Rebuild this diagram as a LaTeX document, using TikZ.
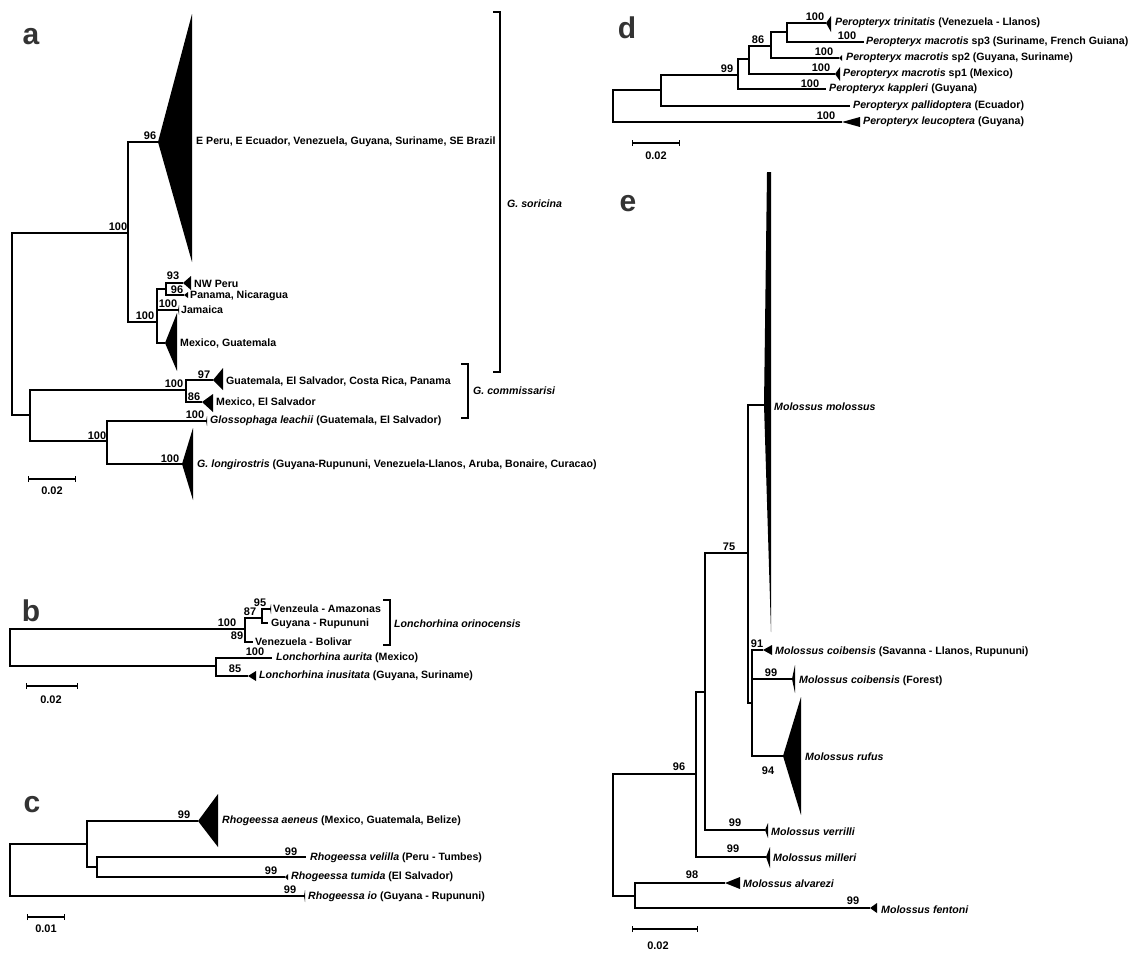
\documentclass[tikz,border=0pt]{standalone}
\usepackage{fontspec}
\setmainfont{Liberation Sans}
\usetikzlibrary{arrows.meta}

% collapsed clade: apex, width, extent up, extent down
\newcommand{\collapsed}[4]{\fill (#1) -- ++(#2,-#3) -- ++(0,{#3+#4}) -- cycle;}

\begin{document}
\begin{tikzpicture}[
    x=1pt, y=-1pt,
    branch/.style = {line width=1.2pt},
    tip/.style = {
        anchor=west,
        inner sep=0pt,
        font=\fontsize{10.6}{12}\selectfont\bfseries
    },
    bs/.style = {
        inner sep=0pt,
        font=\fontsize{11}{12}\selectfont\bfseries
    },
    panel/.style = {
        inner sep=0pt,
        text=black!80,
        font=\fontsize{30}{30}\selectfont\bfseries
    },
    bracket/.style = {line width=1.2pt},
    scalebar/.style = {line width=1.2pt, {Bar[width=6pt]}-{Bar[width=6pt]}},
    scl/.style = {inner sep=0pt, font=\fontsize{11}{12}\selectfont\bfseries}
]

\useasboundingbox (0,0) rectangle (1134,953);

%% ── a ───────────────────────────────────────────────────────────────────────

\node[panel] (labA) at (31,37) {a};

\coordinate (aR)   at (12,324);
\coordinate (aN1)  at (128,233);
\coordinate (aEPe) at (158,142);
\coordinate (aN2)  at (157,322);
\coordinate (aN3)  at (166,289);
\coordinate (aNWP) at (183,283);
\coordinate (aPan) at (184,295);
\coordinate (aJam) at (178,310);
\coordinate (aMex) at (165,343);
\coordinate (aN4)  at (30,415);
\coordinate (aN5)  at (186,390);
\coordinate (aGua) at (213,380);
\coordinate (aMeS) at (202,402);
\coordinate (aN6)  at (107,441);
\coordinate (aLea) at (206,421);
\coordinate (aLon) at (182,464);

\draw[branch] (aR)  |- (aN1);
\draw[branch] (aR)  |- (aN4);
\draw[branch] (aN1) |- (aEPe);
\draw[branch] (aN1) |- (aN2);
\draw[branch] (aN2) |- (aN3);
\draw[branch] (aN2) |- (aJam);
\draw[branch] (aN2) |- (aMex);
\draw[branch] (aN3) |- (aNWP);
\draw[branch] (aN3) |- (aPan);
\draw[branch] (aN4) |- (aN5);
\draw[branch] (aN4) |- (aN6);
\draw[branch] (aN5) |- (aGua);
\draw[branch] (aN5) |- (aMeS);
\draw[branch] (aN6) |- (aLea);
\draw[branch] (aN6) |- (aLon);

\collapsed{aEPe}{34}{128}{120}
\collapsed{aNWP}{8}{7}{7}
\collapsed{aPan}{4}{3}{3}
\collapsed{aJam}{1}{5}{5}
\collapsed{aMex}{12}{30}{28}
\collapsed{aGua}{10}{12}{10}
\collapsed{aMeS}{11}{8}{10}
\collapsed{aLea}{1}{5}{5}
\collapsed{aLon}{11}{36}{36}

\node[tip] (tEPe) at (196,142) {E Peru, E Ecuador, Venezuela, Guyana, Suriname, SE Brazil};
\node[tip] (tNWP) at (194,284) {NW Peru};
\node[tip] (tPan) at (190,296) {Panama, Nicaragua};
\node[tip] (tJam) at (181,310) {Jamaica};
\node[tip] (tMex) at (180,343) {Mexico, Guatemala};
\node[tip] (tGua) at (226,381) {Guatemala, El Salvador, Costa Rica, Panama};
\node[tip] (tMeS) at (216,402) {Mexico, El Salvador};
\node[tip] (tLea) at (210,421) {\textit{Glossophaga leachii} (Guatemala, El Salvador)};
\node[tip] (tLon) at (197,465) {\textit{G. longirostris} (Guyana-Rupununi, Venezuela-Llanos, Aruba, Bonaire, Curacao)};

\node[bs] (bsA1)  at (118,227) {100};
\node[bs] (bsA2)  at (150,136) {96};
\node[bs] (bsA3)  at (145,316) {100};
\node[bs] (bsA4)  at (173,276) {93};
\node[bs] (bsA5)  at (177,290) {96};
\node[bs] (bsA6)  at (168,304) {100};
\node[bs] (bsA7)  at (174,384) {100};
\node[bs] (bsA8)  at (204,375) {97};
\node[bs] (bsA9)  at (194,397) {86};
\node[bs] (bsA10) at (97,436)  {100};
\node[bs] (bsA11) at (195,415) {100};
\node[bs] (bsA12) at (170,459) {100};

% grupos
\coordinate (sorT) at (500,12);
\coordinate (sorB) at (500,372);
\draw[bracket] (sorT) ++(-7,0) -- (sorT) -- (sorB) -- ++(-7,0);
\node[tip] (gSor) at (507,204) {\textit{G. soricina}};

\coordinate (comT) at (468,364);
\coordinate (comB) at (468,418);
\draw[bracket] (comT) ++(-7,0) -- (comT) -- (comB) -- ++(-7,0);
\node[tip] (gCom) at (473,391) {\textit{G. commissarisi}};

\coordinate (aS1) at (28,479);
\coordinate (aS2) at (76,479);
\draw[scalebar] (aS1) -- (aS2);
\node[scl] (aSL) at (52,491) {0.02};

%% ── b ───────────────────────────────────────────────────────────────────────

\node[panel] (labB) at (31,611) {b};

\coordinate (bR)   at (10,647);
\coordinate (bN1)  at (245,629);
\coordinate (bN3)  at (262,618);
\coordinate (bAma) at (270,609);
\coordinate (bGuy) at (268,623);
\coordinate (bBol) at (253,642);
\coordinate (bN2)  at (216,666);
\coordinate (bAur) at (272,658);
\coordinate (bInu) at (248,676);

\draw[branch] (bR)  |- (bN1);
\draw[branch] (bR)  |- (bN2);
\draw[branch] (bN1) |- (bN3);
\draw[branch] (bN1) |- (bBol);
\draw[branch] (bN3) |- (bAma);
\draw[branch] (bN3) |- (bGuy);
\draw[branch] (bN2) |- (bAur);
\draw[branch] (bN2) |- (bInu);

\collapsed{bAma}{1}{5}{5}
\collapsed{bInu}{8}{5}{5}

\node[tip] (tAma) at (273,609) {Venzeula - Amazonas};
\node[tip] (tGuy) at (271,624) {Guyana - Rupununi};
\node[tip] (tBol) at (255,642) {Venezuela - Bolivar};
\node[tip] (tAur) at (276,658) {\textit{Lonchorhina aurita} (Mexico)};
\node[tip] (tInu) at (259,676) {\textit{Lonchorhina inusitata} (Guyana, Suriname)};

\node[bs] (bsB1) at (227,623) {100};
\node[bs] (bsB2) at (250,612) {87};
\node[bs] (bsB3) at (237,636) {89};
\node[bs] (bsB4) at (260,603) {95};
\node[bs] (bsB5) at (255,652) {100};
\node[bs] (bsB6) at (235,669) {85};

\coordinate (oriT) at (390,600);
\coordinate (oriB) at (390,645);
\draw[bracket] (oriT) ++(-7,0) -- (oriT) -- (oriB) -- ++(-7,0);
\node[tip] (gOri) at (394,624) {\textit{Lonchorhina orinocensis}};

\coordinate (bS1) at (26,686);
\coordinate (bS2) at (78,686);
\draw[scalebar] (bS1) -- (bS2);
\node[scl] (bSL) at (51,700) {0.02};

%% ── c ───────────────────────────────────────────────────────────────────────

\node[panel] (labC) at (32,805) {c};

\coordinate (cR)   at (10,870);
\coordinate (cN1)  at (87,844);
\coordinate (cAen) at (198,821);
\coordinate (cN2)  at (97,867);
\coordinate (cVel) at (306,857);
\coordinate (cTum) at (285,877);
\coordinate (cIo)  at (304,896);

\draw[branch] (cR)  |- (cN1);
\draw[branch] (cR)  |- (cIo);
\draw[branch] (cN1) |- (cAen);
\draw[branch] (cN1) |- (cN2);
\draw[branch] (cN2) |- (cVel);
\draw[branch] (cN2) |- (cTum);

\collapsed{cAen}{20}{27}{26}
\collapsed{cTum}{3}{3}{3}
\collapsed{cIo}{1}{6}{6}

\node[tip] (tAen) at (222,821) {\textit{Rhogeessa aeneus} (Mexico, Guatemala, Belize)};
\node[tip] (tVel) at (310,858) {\textit{Rhogeessa velilla} (Peru - Tumbes)};
\node[tip] (tTum) at (291,877) {\textit{Rhogeessa tumida} (El Salvador)};
\node[tip] (tIo)  at (308,897) {\textit{Rhogeessa io} (Guyana - Rupununi)};

\node[bs] (bsC1) at (184,815) {99};
\node[bs] (bsC2) at (291,852) {99};
\node[bs] (bsC3) at (271,871) {99};
\node[bs] (bsC4) at (290,890) {99};

\coordinate (cS1) at (27,917);
\coordinate (cS2) at (65,917);
\draw[scalebar] (cS1) -- (cS2);
\node[scl] (cSL) at (46,929) {0.01};

%% ── d ───────────────────────────────────────────────────────────────────────

\node[panel] (labD) at (627,28) {d};

\coordinate (dR)   at (613,106);
\coordinate (dN1)  at (661,90);
\coordinate (dN2)  at (738,75);
\coordinate (dN3)  at (749,59);
\coordinate (dN4)  at (771,46);
\coordinate (dN5)  at (787,32);
\coordinate (dTri) at (826,23);
\coordinate (dSp3) at (864,42);
\coordinate (dSp2) at (839,58);
\coordinate (dSp1) at (835,74);
\coordinate (dKap) at (826,89);
\coordinate (dPal) at (850,106);
\coordinate (dLeu) at (842,122);

\draw[branch] (dR)  |- (dN1);
\draw[branch] (dR)  |- (dLeu);
\draw[branch] (dN1) |- (dN2);
\draw[branch] (dN1) |- (dPal);
\draw[branch] (dN2) |- (dN3);
\draw[branch] (dN2) |- (dKap);
\draw[branch] (dN3) |- (dN4);
\draw[branch] (dN3) |- (dSp1);
\draw[branch] (dN4) |- (dN5);
\draw[branch] (dN4) |- (dSp2);
\draw[branch] (dN5) |- (dTri);
\draw[branch] (dN5) |- (dSp3);

\collapsed{dTri}{5}{7}{9}
\collapsed{dSp2}{3}{3}{3}
\collapsed{dSp1}{5}{7}{7}
\collapsed{dLeu}{18}{5}{5}

\node[tip] (tTri) at (835,23)  {\textit{Peropteryx trinitatis} (Venezuela - Llanos)};
\node[tip] (tSp3) at (866,42)  {\textit{Peropteryx macrotis} sp3 (Suriname, French Guiana)};
\node[tip] (tSp2) at (846,58)  {\textit{Peropteryx macrotis} sp2 (Guyana, Suriname)};
\node[tip] (tSp1) at (843,74)  {\textit{Peropteryx macrotis} sp1 (Mexico)};
\node[tip] (tKap) at (829,89)  {\textit{Peropteryx kappleri} (Guyana)};
\node[tip] (tPal) at (853,106) {\textit{Peropteryx pallidoptera} (Ecuador)};
\node[tip] (tLeu) at (863,122) {\textit{Peropteryx leucoptera} (Guyana)};

\node[bs] (bsD1) at (815,17)  {100};
\node[bs] (bsD2) at (847,36)  {100};
\node[bs] (bsD3) at (758,40)  {86};
\node[bs] (bsD4) at (824,52)  {100};
\node[bs] (bsD5) at (727,69)  {99};
\node[bs] (bsD6) at (821,68)  {100};
\node[bs] (bsD7) at (810,84)  {100};
\node[bs] (bsD8) at (826,116) {100};

\coordinate (dS1) at (632,143);
\coordinate (dS2) at (680,143);
\draw[scalebar] (dS1) -- (dS2);
\node[scl] (dSL) at (656,156) {0.02};

%% ── e ───────────────────────────────────────────────────────────────────────

\node[panel] (labE) at (628,204) {e};

\coordinate (eR)   at (613,835);
\coordinate (eN1)  at (696,774);
\coordinate (eN2)  at (705,692);
\coordinate (eN3)  at (748,553);
\coordinate (eMol) at (764,405);
\coordinate (eN4)  at (752,703);
\coordinate (eCoS) at (763,650);
\coordinate (eCoF) at (792,679);
\coordinate (eRuf) at (783,756);
\coordinate (eVer) at (765,830);
\coordinate (eMil) at (766,857);
\coordinate (eN6)  at (635,896);
\coordinate (eAlv) at (725,883);
\coordinate (eFen) at (870,908);

\draw[branch] (eR)  |- (eN1);
\draw[branch] (eR)  |- (eN6);
\draw[branch] (eN1) |- (eN2);
\draw[branch] (eN1) |- (eMil);
\draw[branch] (eN2) |- (eN3);
\draw[branch] (eN2) |- (eVer);
\draw[branch] (eN3) |- (eMol);
\draw[branch] (eN3) |- (eN4);
\draw[branch] (eN4) |- (eCoS);
\draw[branch] (eN4) |- (eCoF);
\draw[branch] (eN4) |- (eRuf);
\draw[branch] (eN6) |- (eAlv);
\draw[branch] (eN6) |- (eFen);

% molossus: cuña estrecha, más gruesa arriba
\fill (eMol) -- ++(3,-233) -- ++(4,0) -- ++(0,460) -- cycle;
\collapsed{eCoS}{9}{5}{5}
\collapsed{eCoF}{3}{14}{14}
\collapsed{eRuf}{18}{59}{59}
\collapsed{eVer}{3}{7}{8}
\collapsed{eMil}{4}{10}{11}
\collapsed{eAlv}{15}{6}{6}
\collapsed{eFen}{7}{5}{5}

\node[tip] (tMol) at (774,407) {\textit{Molossus molossus}};
\node[tip] (tCoS) at (775,652) {\textit{Molossus coibensis} (Savanna - Llanos, Rupununi)};
\node[tip] (tCoF) at (799,681) {\textit{Molossus coibensis} (Forest)};
\node[tip] (tRuf) at (805,757) {\textit{Molossus rufus}};
\node[tip] (tVer) at (771,832) {\textit{Molossus verrilli}};
\node[tip] (tMil) at (773,858) {\textit{Molossus milleri}};
\node[tip] (tAlv) at (743,884) {\textit{Molossus alvarezi}};
\node[tip] (tFen) at (881,910) {\textit{Molossus fentoni}};

\node[bs] (bsE1) at (729,547) {75};
\node[bs] (bsE2) at (757,644) {91};
\node[bs] (bsE3) at (771,673) {99};
\node[bs] (bsE4) at (768,771) {94};
\node[bs] (bsE5) at (735,823) {99};
\node[bs] (bsE6) at (679,767) {96};
\node[bs] (bsE7) at (733,849) {99};
\node[bs] (bsE8) at (692,875) {98};
\node[bs] (bsE9) at (853,901) {99};

\coordinate (eS1) at (632,929);
\coordinate (eS2) at (698,929);
\draw[scalebar] (eS1) -- (eS2);
\node[scl] (eSL) at (658,946) {0.02};

\end{tikzpicture}
\end{document}
